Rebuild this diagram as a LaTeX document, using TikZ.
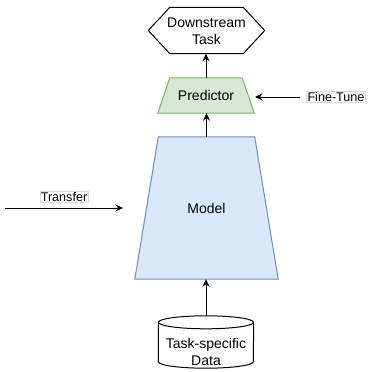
\documentclass[tikz,border=0pt]{standalone}
\usepackage{fontspec}
\setmainfont{Liberation Sans}
\usetikzlibrary{arrows.meta,calc,backgrounds}
\definecolor{pgreen}{HTML}{D5E8D4}
\definecolor{pgreendraw}{HTML}{82B366}
\definecolor{pblue}{HTML}{DAE8FC}
\definecolor{pbluedraw}{HTML}{6C8EBF}

\begin{document}
\begin{tikzpicture}[x=1pt,y=-1pt,
  outline/.style={line width=1pt},
  arr/.style={-{Stealth[length=7.5pt,width=7pt]}, line width=1pt},
  txt/.style={font=\fontsize{14}{17}\selectfont, align=center},
  lbl/.style={font=\fontsize{12.6}{15}\selectfont, draw=gray!30, line width=0.5pt,
    inner sep=1pt, fill=white},
  box/.style={txt, inner sep=0pt}]

  \useasboundingbox (0,0) rectangle (368,372);

  % downstream task (hexagon)
  \node[box, minimum width=116pt, minimum height=46pt] (task) at (206.5,30.5) {};
  \draw[outline, fill=white] (task.west)
    -- ($(task.north west)+(21.5,0)$) -- ($(task.north east)+(-21.5,0)$)
    -- (task.east)
    -- ($(task.south east)+(-21.5,0)$) -- ($(task.south west)+(21.5,0)$) -- cycle;
  \node[txt] (tasktext) at (206.5,31.5) {Downstream\\Task};

  % predictor head (trapezoid, narrow on top)
  \node[box, minimum width=96pt, minimum height=35pt] (pred) at (206,95.5) {Predictor};
  % model body (trapezoid, narrow on top)
  \node[box, minimum width=143pt, minimum height=142pt] (model) at (206.5,208) {Model};

  \begin{scope}[on background layer]
    \draw[outline, fill=pgreen, draw=pgreendraw]
      (pred.south west) -- ($(pred.north west)+(12,0)$)
      -- ($(pred.north east)+(-12,0)$) -- (pred.south east) -- cycle;
    \draw[outline, fill=pblue, draw=pbluedraw]
      (model.south west) -- ($(model.north west)+(23.5,0)$)
      -- ($(model.north east)+(-23.5,0)$) -- (model.south east) -- cycle;
  \end{scope}

  % task-specific data (cylinder)
  \node[minimum width=95pt, minimum height=52pt, inner sep=0pt] (data) at (206,342) {};
  \draw[outline, fill=white] ($(data.north west)+(0,6.5)$) -- ($(data.south west)+(0,-6.5)$)
    arc[start angle=180, end angle=360, x radius=47.5pt, y radius=6.5pt]
    -- ($(data.north east)+(0,6.5)$);
  \draw[outline, fill=white] ($(data.north)+(0,6.5)$) ellipse [x radius=47.5pt, y radius=6.5pt];
  \node[txt] (datatext) at (206,351.5) {Task-specific\\Data};

  % data flow
  \draw[arr] (data.north) -- (data.north |- model.south);
  \draw[arr] (model.north) -- (model.north |- pred.south);
  \draw[arr] (pred.north) -- (pred.north |- task.south);

  % fine-tuning signal
  \node[lbl] (ft) at (336,97) {Fine-Tune};
  \coordinate (ftend) at (255,97);
  \draw[arr] ($(ft.west)+(-6,0)$) -- (ftend);

  % transfer signal
  \coordinate (trstart) at (5,208);
  \coordinate (trend) at (123,208);
  \draw[arr] (trstart) -- (trend);
  \node[lbl] (tr) at (64,197) {Transfer};
\end{tikzpicture}
\end{document}
